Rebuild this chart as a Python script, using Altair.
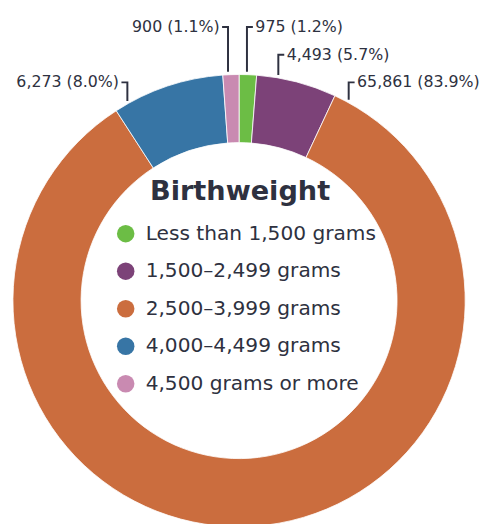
import altair as alt
import pandas as pd
import numpy as np

# ---- data ----
categories = ["Less than 1,500 grams", "1,500–2,499 grams", "2,500–3,999 grams",
              "4,000–4,499 grams", "4,500 grams or more"]
counts = [975, 4493, 65861, 6273, 900]
colors = ["#6cbd45", "#7c4278", "#cb6d3e", "#3775a5", "#c98ab1"]
title_text = "Birthweight"

# ---- layout (pixels) ----
W, H = 472, 508
CX, CY = 234, 293
R_OUT, R_IN = 229, 160
anchor_deg = [2.0, 10.0, 29.0, 330.4, 357.2]   # where each leader line meets the ring
label_y = [16, 44, 72, 72, 16]                  # label line heights
side = [1, 1, 1, -1, -1]                        # 1 = text to the right, -1 = to the left
TXT = "#2e3140"
FONT = "DejaVu Sans"

total = sum(counts)
df = pd.DataFrame({
    "idx": list(range(len(categories))),
    "category": categories,
    "count": counts,
})
df["label"] = [f"{c:,} ({c / total * 100:.1f}%)" for c in counts]

# leader lines & label anchor points
rows, lab_rows = [], []
for i, (a, ly, s) in enumerate(zip(anchor_deg, label_y, side)):
    dx = R_OUT * np.sin(np.radians(a))
    lx = CX + dx
    ybot = CY - np.sqrt(R_OUT ** 2 - dx ** 2) - 3
    pts = [(lx + s * 6, ly), (lx, ly), (lx, ybot)]
    for k, (px, py) in enumerate(pts):
        rows.append({"lid": i, "seq": k, "px": px, "py": py})
    lab_rows.append({"label": df["label"][i], "tx": lx + s * 8.5, "ty": ly, "side": s})
lines_df = pd.DataFrame(rows)
labs_df = pd.DataFrame(lab_rows)

arc = alt.Chart(df).mark_arc(outerRadius=R_OUT, innerRadius=R_IN,
                             stroke="white", strokeWidth=0.8).encode(
    theta=alt.Theta("count:Q", stack=True),
    order=alt.Order("idx:Q"),
    color=alt.Color("category:N",
                    scale=alt.Scale(domain=categories, range=colors),
                    legend=alt.Legend(orient="none", legendX=109, legendY=215,
                                      title=None, symbolType="circle", symbolSize=314,
                                      symbolStrokeWidth=0, labelFontSize=20.4,
                                      labelFont=FONT, labelColor=TXT, labelOffset=10,
                                      rowPadding=17.0, labelLimit=400, padding=0)),
    x=alt.value(CX), y=alt.value(CY),
)

leaders = alt.Chart(lines_df).mark_line(color=TXT, strokeWidth=2).encode(
    x=alt.X("px:Q", scale=None), y=alt.Y("py:Q", scale=None),
    detail="lid:N", order="seq:Q")

txt_r = alt.Chart(labs_df).transform_filter("datum.side > 0").mark_text(
    align="left", baseline="middle", font=FONT, fontSize=16, color=TXT).encode(
    x=alt.X("tx:Q", scale=None), y=alt.Y("ty:Q", scale=None), text="label:N")
txt_l = alt.Chart(labs_df).transform_filter("datum.side < 0").mark_text(
    align="right", baseline="middle", font=FONT, fontSize=16, color=TXT).encode(
    x=alt.X("tx:Q", scale=None), y=alt.Y("ty:Q", scale=None), text="label:N")

title = alt.Chart(pd.DataFrame({"t": [title_text]})).mark_text(
    align="center", baseline="middle", font=FONT, fontSize=27.5, fontWeight="bold",
    color=TXT).encode(x=alt.value(CX + 1), y=alt.value(183), text="t:N")

chart = alt.layer(arc, leaders, txt_r, txt_l, title).properties(
    width=W, height=H, padding=0
).configure_view(stroke=None)

chart.save("out.html", embed_options={"renderer": "svg", "actions": False})
